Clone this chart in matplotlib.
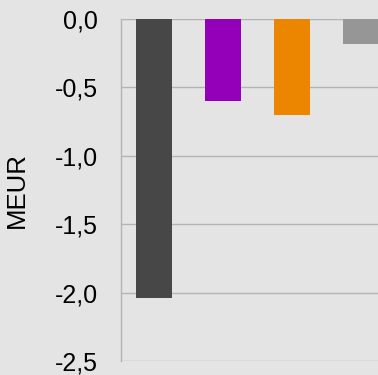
import matplotlib
matplotlib.use("Agg")
import matplotlib.pyplot as plt

# values in MEUR
categories = ["A", "B", "C", "D"]
values = [-2.04, -0.60, -0.70, -0.18]
colors = ["#474747", "#9400b9", "#ec8600", "#969696"]
yticks = [0.0, -0.5, -1.0, -1.5, -2.0, -2.5]
ytickLabels = ["0,0", "-0,5", "-1,0", "-1,5", "-2,0", "-2,5"]

plt.rcParams['font.family'] = ['Liberation Sans', 'DejaVu Sans']

bg = "#e4e4e4"
fig = plt.figure(figsize=(3.78, 3.75), dpi=100, facecolor=bg)
ax = fig.add_axes([0.319, 0.0373, 0.681, 0.9120])
ax.set_facecolor(bg)

x = range(len(categories))
ax.bar(x, values, width=0.52, color=colors, zorder=3)

ax.set_ylim(-2.5, 0)
ax.set_xlim(-0.48, 3.25)
ax.set_yticks(yticks)
ax.set_yticklabels(ytickLabels, fontsize=18)
ax.set_xticks([])
ax.tick_params(axis="y", length=0, pad=16)

ax.yaxis.grid(True, color="#b4b4b4", linewidth=1)
ax.set_axisbelow(True)
ax.axhline(0, color="#b4b4b4", linewidth=1.5, zorder=2)

for side in ["top", "right", "bottom"]:
    ax.spines[side].set_visible(False)
ax.spines["left"].set_color("#b4b4b4")
ax.spines["left"].set_linewidth(1)

ax.set_ylabel("MEUR", fontsize=18.5)
ax.yaxis.set_label_coords(-0.357, 0.5)

fig.savefig("out.png", dpi=100, facecolor=bg)
